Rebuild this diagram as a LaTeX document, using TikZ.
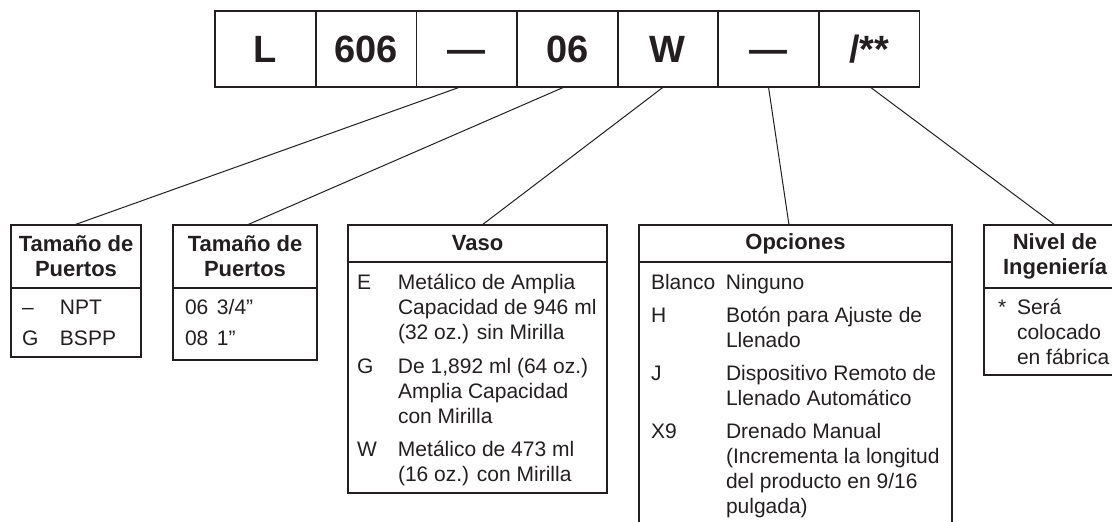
\documentclass[tikz,border=0pt]{standalone}
\usepackage{fontspec}
\setmainfont{Liberation Sans}
\usepackage{tikz}
\usetikzlibrary{positioning,calc}

\definecolor{ink}{RGB}{35,31,32}

% box body: width, height, content (top aligned)
\newcommand{\boxbody}[3]{\parbox[c][#2][t]{#1}{#3}}

\tikzset{
    cell/.style={
           rectangle,
           draw=ink, line width=0.9pt,
           minimum width=50.3pt,
           minimum height=38pt,
           inner sep=0pt, outer sep=0pt,
           text height=13.6pt, text depth=0pt,
           font=\fontsize{19}{21}\selectfont\bfseries,
           text=ink,
           },
    head/.style={
           rectangle,
           draw=ink, line width=0.6pt,
           inner sep=0pt, outer sep=0pt,
           align=center,
           font=\fontsize{11}{12.5}\selectfont\bfseries,
           text=ink,
           },
    body/.style={
           rectangle,
           draw=ink, line width=0.6pt,
           inner sep=0pt, outer sep=0pt,
           font=\fontsize{10.5}{12.5}\selectfont,
           text=ink,
           },
}

\begin{document}
\begin{tikzpicture}
[
x=0.5pt, y=-0.5pt
]

 \useasboundingbox (0,0) rectangle (1112,521);
 \clip (0,0) rectangle (1112,521);

 % model code bar
 \node[cell] (c1) at (265.5,49) {L};
 \node[cell, right=0pt of c1] (c2) {606};
 \node[cell, right=0pt of c2] (c3) {---};
 \node[cell, right=0pt of c3] (c4) {06};
 \node[cell, right=0pt of c4] (c5) {W};
 \node[cell, right=0pt of c5] (c6) {---};
 \node[cell, right=0pt of c6] (c7) {/**};

 % PORT THREAD
 \node[head, anchor=north,
 minimum width=65pt,
 minimum height=31.5pt] (h1) at (76,225)
 {Tamaño de\\Puertos};
 \node[body, below=0pt of h1] (b1)
 {\boxbody{65pt}{34.5pt}{\vspace*{4.5pt}%
 \begin{tabular}[t]{@{\hspace{5.5pt}}p{19pt}@{}l@{}}
  – & NPT\\[3pt]
  G & BSPP
 \end{tabular}}};

 % PORT SIZE
 \node[head, anchor=north,
 minimum width=72pt,
 minimum height=31.5pt] (h2) at (245,225)
 {Tamaño de\\Puertos};
 \node[body, below=0pt of h2] (b2)
 {\boxbody{72pt}{36pt}{\vspace*{4.5pt}%
 \begin{tabular}[t]{@{\hspace{6pt}}p{16pt}@{}l@{}}
  06 & 3/4”\\[3pt]
  08 & 1”
 \end{tabular}}};

 % BOWL
 \node[head, anchor=north,
 minimum width=129.5pt,
 minimum height=18.5pt] (h3) at (477.5,225)
 {Vaso};
 \node[body, below=0pt of h3] (b3)
 {\boxbody{129.5pt}{115.5pt}{\vspace*{5pt}%
 \begin{tabular}[t]{@{\hspace{4.5pt}}p{20.5pt}@{}l@{}}
  E & Metálico de Amplia\\
    & Capacidad de 946 ml\\
    & (32 oz.) sin Mirilla\\[4.5pt]
  G & De 1,892 ml (64 oz.)\\
    & Amplia Capacidad\\
    & con Mirilla\\[4pt]
  W & Metálico de 473 ml\\
    & (16 oz.) con Mirilla
 \end{tabular}}};

 % OPTIONS
 \node[head, anchor=north,
 minimum width=156.5pt,
 minimum height=18.5pt] (h4) at (795.5,225)
 {Opciones};
 \node[body, below=0pt of h4] (b4)
 {\boxbody{156.5pt}{136.5pt}{\vspace*{5pt}%
 \begin{tabular}[t]{@{\hspace{6pt}}p{37.5pt}@{}l@{}}
  Blanco & Ninguno\\[4pt]
  H  & Botón para Ajuste de\\
     & Llenado\\[4pt]
  J  & Dispositivo Remoto de\\
     & Llenado Automático\\[4pt]
  X9 & Drenado Manual\\
     & (Incrementa la longitud\\
     & del producto en 9/16\\
     & pulgada)
 \end{tabular}}};

 % ENGINEERING LEVEL
 \node[head, anchor=north,
 minimum width=71pt,
 minimum height=31.5pt] (h5) at (1055,225)
 {Nivel de\\Ingeniería};
 \node[body, below=0pt of h5] (b5)
 {\boxbody{71pt}{43.5pt}{\vspace*{4.5pt}%
 \begin{tabular}[t]{@{\hspace{7pt}}p{9.5pt}@{}l@{}}
  * & Será\\
    & colocado\\
    & en fábrica
 \end{tabular}}};

 % leader lines from the code to the boxes
 \path[draw=ink, line width=0.5pt]
 ([xshift=-3.25pt]c3.south) edge ([xshift=-1pt]h1.north)
 ([xshift=-1.5pt]c4.south) edge ([xshift=1pt]h2.north)
 ([xshift=-2.25pt]c5.south) edge ([xshift=2.25pt]h3.north)
 (c6.south) edge ([xshift=-3.25pt]h4.north)
 ([xshift=0.5pt]c7.south) edge (h5.north)
 ;

\end{tikzpicture}
\end{document}
